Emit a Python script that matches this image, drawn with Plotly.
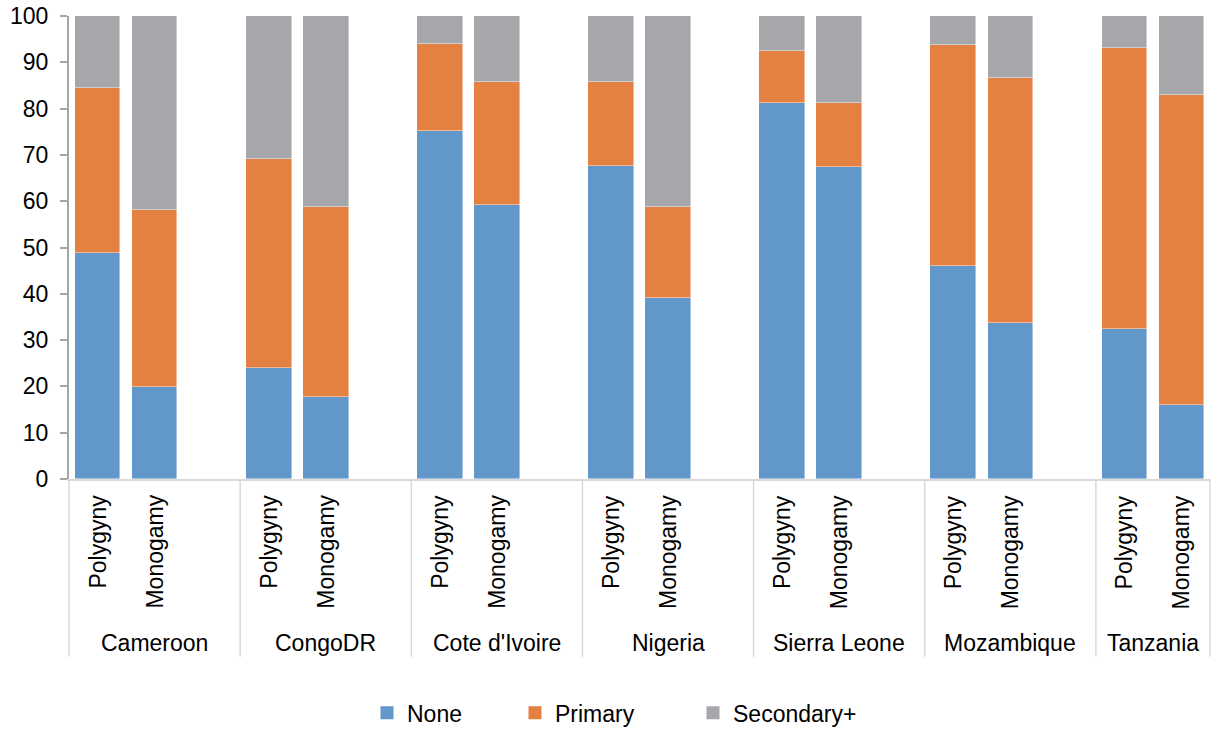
import plotly.graph_objects as go

# Education of women by union type, per country (percent)
countries = ["Cameroon", "CongoDR", "Cote d'Ivoire", "Nigeria",
             "Sierra Leone", "Mozambique", "Tanzania"]
union_types = ["Polygyny", "Monogamy"]

# Values ordered country by country: Polygyny, Monogamy
none_pct = [48.9, 19.9, 23.9, 17.7, 75.2, 59.2, 67.7, 39.1,
            81.2, 67.3, 45.9, 33.6, 32.3, 15.9]
primary_pct = [35.6, 38.2, 45.2, 41.0, 18.8, 26.6, 18.1, 19.7,
               11.2, 14.0, 47.9, 53.1, 60.8, 67.0]
secondary_pct = [15.5, 41.9, 30.8, 41.3, 6.0, 14.2, 14.1, 41.2,
                 7.6, 18.7, 6.2, 13.3, 6.9, 17.1]

series = [("None", none_pct, "#6197C9"),
          ("Primary", primary_pct, "#E48042"),
          ("Secondary+", secondary_pct, "#A6A7AA")]

# Each country takes three slots: two bars and a blank spacer (none after the last)
SLOTS_PER_GROUP = 3
n_slots = SLOTS_PER_GROUP * (len(countries) - 1) + len(union_types)
x_pos = [g * SLOTS_PER_GROUP + j for g in range(len(countries)) for j in range(len(union_types))]

FONT = "Liberation Sans, Arial, sans-serif"

fig = go.Figure()
legend_names = ["legend", "legend2", "legend3"]
for (name, vals, color), lg in zip(series, legend_names):
    fig.add_trace(go.Bar(
        x=x_pos, y=vals, name=name, width=0.8,
        marker=dict(color=color, line=dict(color="rgba(255,255,255,0.55)", width=0.8)),
        legendgroup=name, showlegend=False,
    ))
    # legend key drawn as a larger square swatch
    fig.add_trace(go.Scatter(
        x=[None], y=[None], mode="markers", name=name,
        marker=dict(symbol="square", size=13, color=color, line=dict(width=0)),
        legendgroup=name, legend=lg, hoverinfo="skip",
    ))

# Inner category labels (rotated) and country labels
annotations = []
for g, country in enumerate(countries):
    for j, ut in enumerate(union_types):
        annotations.append(dict(
            x=g * SLOTS_PER_GROUP + j, xref="x", y=0, yref="paper",
            yanchor="top", xanchor="center", yshift=-14,
            text=ut, textangle=-90, showarrow=False,
            font=dict(family=FONT, size=23, color="#000000"),
        ))
    span = SLOTS_PER_GROUP if g < len(countries) - 1 else len(union_types)
    annotations.append(dict(
        x=g * SLOTS_PER_GROUP - 0.5 + span / 2, xref="x", y=0, yref="paper",
        yanchor="middle", xanchor="center", yshift=-164,
        text=country, showarrow=False,
        font=dict(family=FONT, size=23, color="#000000"),
    ))

# Vertical dividers between country groups below the axis
shapes = []
bounds = [g * SLOTS_PER_GROUP for g in range(len(countries))] + [n_slots]
for b in bounds:
    xp = b / n_slots
    shapes.append(dict(type="line", xref="paper", yref="paper",
                       x0=xp, x1=xp, y0=0, y1=-0.384,
                       line=dict(color="#D9D9D9", width=1.5)))

legend_common = dict(orientation="h", yref="paper", y=-0.505, yanchor="middle",
                     xanchor="left", bgcolor="rgba(0,0,0,0)",
                     font=dict(family=FONT, size=23, color="#000000"),
                     itemwidth=30, itemclick=False, itemdoubleclick=False)
plot_left, plot_w = 69, 1141
legend_px = [367, 515, 693]

layout_legends = {}
for lg, px in zip(legend_names, legend_px):
    layout_legends[lg] = dict(legend_common, x=(px - plot_left) / plot_w)

fig.update_layout(
    width=1217, height=730,
    margin=dict(l=69, r=7, t=16, b=251, autoexpand=False),
    paper_bgcolor="white", plot_bgcolor="white",
    barmode="stack", bargap=0,
    showlegend=True,
    font=dict(family=FONT, size=22, color="#000000"),
    xaxis=dict(range=[-0.5, n_slots - 0.5], showticklabels=False, ticks="",
               showgrid=False, zeroline=False, showline=True, automargin=False,
               linecolor="#D9D9D9", linewidth=2),
    yaxis=dict(range=[0, 100], dtick=10, showgrid=False, zeroline=False,
               showline=True, automargin=False, linecolor="#A6A6A6", linewidth=2,
               ticks="outside", ticklen=7, tickwidth=1.5, tickcolor="#A6A6A6",
               ticklabelstandoff=7,
               tickfont=dict(family=FONT, size=23, color="#000000")),
    annotations=annotations,
    shapes=shapes,
    **layout_legends,
)

fig.write_html("out.html")
